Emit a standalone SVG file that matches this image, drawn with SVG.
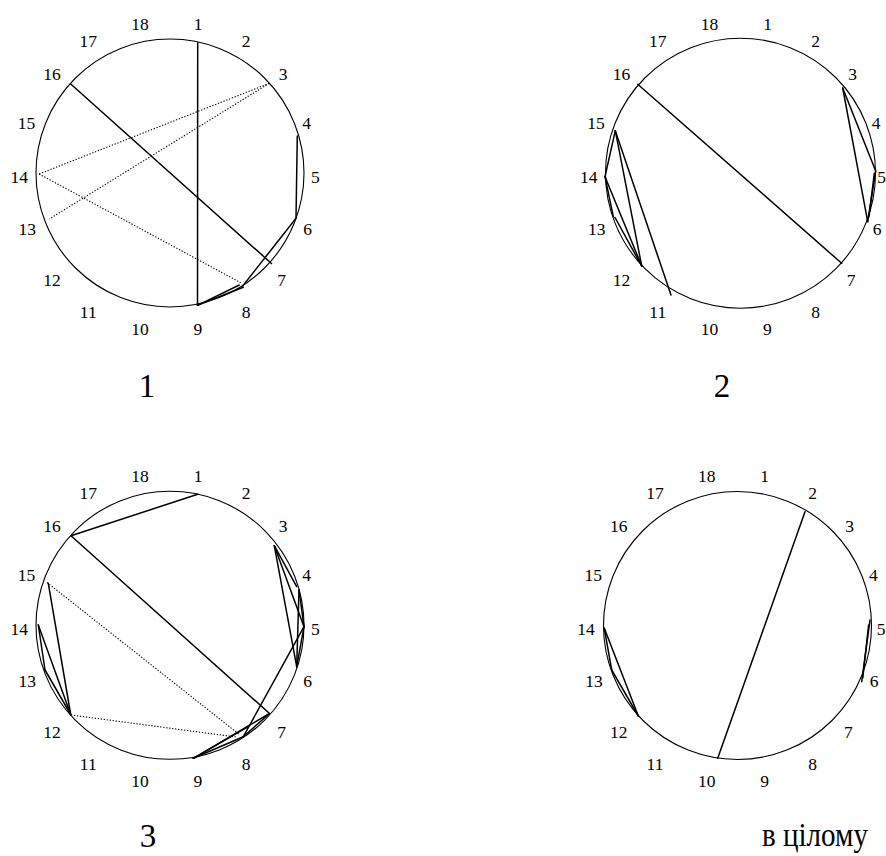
<svg xmlns="http://www.w3.org/2000/svg" width="886" height="856" viewBox="0 0 886 856">
<style>
.ring{fill:none;stroke:#000;stroke-width:1.1}
.ch{fill:none;stroke:#000;stroke-width:1.5;stroke-linecap:round}
.dt{fill:none;stroke:#000;stroke-width:1.1;stroke-dasharray:1.3 1.7}
.lb{font-family:"Liberation Serif","Times New Roman",serif;font-size:17.5px;text-anchor:middle;fill:#000}
.cap{font-family:"Liberation Serif","Times New Roman",serif;font-size:33px;text-anchor:middle;fill:#000}
</style>
<rect width="886" height="856" fill="#fff"/>

<g id="diagram1">
<circle class="ring" cx="170" cy="173" r="134"/>
<g class="lb">
<text x="198" y="30">1</text><text x="246" y="46.7">2</text><text x="283" y="80">3</text><text x="306.7" y="129.3">4</text><text x="315.3" y="182.7">5</text><text x="307.5" y="235">6</text><text x="281.7" y="286">7</text><text x="246" y="318.3">8</text><text x="197.8" y="335">9</text><text x="140" y="335">10</text><text x="88.3" y="318.3">11</text><text x="52" y="286">12</text><text x="27.2" y="235">13</text><text x="19.2" y="182.7">14</text><text x="26.5" y="129.3">15</text><text x="52" y="80">16</text><text x="88.3" y="46.7">17</text><text x="140" y="30">18</text>
</g>
<text class="cap" x="147" y="397">1</text>
</g>

<g id="diagram2">
<circle class="ring" cx="740.5" cy="173.2" r="135"/>
<g class="lb">
<text x="767.5" y="30">1</text><text x="815.5" y="46.7">2</text><text x="852.5" y="80">3</text><text x="876.2" y="129.3">4</text><text x="881.5" y="182.7">5</text><text x="877" y="235">6</text><text x="851.2" y="286">7</text><text x="815.5" y="318.3">8</text><text x="767.3" y="335">9</text><text x="709.5" y="335">10</text><text x="657.8" y="318.3">11</text><text x="621.5" y="286">12</text><text x="596.7" y="235">13</text><text x="588.7" y="182.7">14</text><text x="596" y="129.3">15</text><text x="621.5" y="80">16</text><text x="657.8" y="46.7">17</text><text x="709.5" y="30">18</text>
</g>
<text class="cap" x="722" y="397">2</text>
</g>

<g id="diagram3">
<circle class="ring" cx="170" cy="625.3" r="134"/>
<g class="lb">
<text x="198" y="482">1</text><text x="246" y="498.7">2</text><text x="283" y="532">3</text><text x="306.7" y="581.3">4</text><text x="315.3" y="634.7">5</text><text x="307.5" y="687">6</text><text x="281.7" y="738">7</text><text x="246" y="770.3">8</text><text x="197.8" y="787">9</text><text x="140" y="787">10</text><text x="88.3" y="770.3">11</text><text x="52" y="738">12</text><text x="27.2" y="687">13</text><text x="19.2" y="634.7">14</text><text x="26.5" y="581.3">15</text><text x="52" y="532">16</text><text x="88.3" y="498.7">17</text><text x="140" y="482">18</text>
</g>
<text class="cap" x="148" y="847">3</text>
</g>

<g id="diagram4">
<circle class="ring" cx="737.5" cy="625.5" r="134"/>
<g class="lb">
<text x="764.7" y="482">1</text><text x="812.7" y="498.7">2</text><text x="849.7" y="532">3</text><text x="873.4" y="581.3">4</text><text x="881" y="634.7">5</text><text x="874.2" y="687">6</text><text x="848.4" y="738">7</text><text x="812.7" y="770.3">8</text><text x="764.5" y="787">9</text><text x="706.7" y="787">10</text><text x="655" y="770.3">11</text><text x="618.7" y="738">12</text><text x="593.9" y="687">13</text><text x="585.9" y="634.7">14</text><text x="593.2" y="581.3">15</text><text x="618.7" y="532">16</text><text x="655" y="498.7">17</text><text x="706.7" y="482">18</text>
</g>
<text class="cap" x="815" y="846" textLength="106" lengthAdjust="spacingAndGlyphs">в цілому</text>
</g>

<g id="connectors">
<g id="chords1">
<line class="ch" x1="197.7" y1="42.7" x2="197.5" y2="305.3"/>
<line class="ch" x1="71" y1="84.3" x2="271.5" y2="263.5"/>
<line class="ch" x1="297.3" y1="136" x2="296" y2="218.3"/>
<line class="ch" x1="296" y1="218.3" x2="242.7" y2="286"/>
<line class="ch" x1="197.5" y1="305.3" x2="239.3" y2="285"/>
<line class="ch" x1="197.5" y1="305.3" x2="243.3" y2="287.3"/>
<line class="dt" x1="269.3" y1="83.3" x2="39" y2="174"/>
<line class="dt" x1="269.3" y1="83.3" x2="49.3" y2="219"/>
<line class="dt" x1="39" y1="174" x2="240.7" y2="282.7"/>
</g>
<g id="chords2">
<line class="ch" x1="637.7" y1="84.3" x2="841.7" y2="263.3"/>
<line class="ch" x1="842.7" y1="88" x2="875.7" y2="171"/>
<line class="ch" x1="842.7" y1="88" x2="867.7" y2="221.7"/>
<line class="ch" x1="875.7" y1="171" x2="867.7" y2="221.7"/>
<line class="ch" x1="874.3" y1="173.3" x2="869" y2="216.7"/>
<line class="ch" x1="615.3" y1="130.7" x2="605" y2="176.7"/>
<line class="ch" x1="615.3" y1="130.7" x2="641.7" y2="266"/>
<line class="ch" x1="615.3" y1="130.7" x2="671" y2="295"/>
<line class="ch" x1="605" y1="176.7" x2="641.7" y2="266"/>
<line class="ch" x1="605" y1="176.7" x2="613.3" y2="216.7"/>
<line class="ch" x1="615" y1="217.5" x2="641.7" y2="266"/>
</g>
<g id="chords3">
<line class="ch" x1="197.7" y1="494.3" x2="71" y2="535.7"/>
<line class="ch" x1="71" y1="535.7" x2="269.5" y2="713.5"/>
<line class="ch" x1="274.3" y1="545.7" x2="296.7" y2="586.7"/>
<line class="ch" x1="274.3" y1="545.7" x2="304" y2="626.7"/>
<line class="ch" x1="274.3" y1="545.7" x2="296.7" y2="666.7"/>
<line class="ch" x1="299" y1="590" x2="304" y2="626.7"/>
<line class="ch" x1="299" y1="590" x2="296.7" y2="666.7"/>
<line class="ch" x1="304" y1="626.7" x2="296.7" y2="666.7"/>
<line class="ch" x1="304" y1="626.7" x2="243.3" y2="736.7"/>
<line class="ch" x1="269.5" y1="713.5" x2="193.3" y2="758.3"/>
<line class="ch" x1="269.5" y1="713.5" x2="243.3" y2="736.7"/>
<line class="ch" x1="243.3" y1="736.7" x2="193.3" y2="758.3"/>
<line class="ch" x1="248.3" y1="726.7" x2="193.3" y2="758.3"/>
<line class="ch" x1="48.3" y1="583.3" x2="70.7" y2="714.5"/>
<line class="ch" x1="38.3" y1="625" x2="70.7" y2="714.5"/>
<line class="ch" x1="38.3" y1="625" x2="45" y2="670"/>
<line class="ch" x1="45" y1="670" x2="70.7" y2="714.5"/>
<line class="dt" x1="47" y1="582.5" x2="240" y2="735"/>
<line class="dt" x1="71" y1="715" x2="236" y2="737"/>
</g>
<g id="chords4">
<line class="ch" x1="805" y1="511.7" x2="717.7" y2="758.3"/>
<line class="ch" x1="604.3" y1="628.3" x2="638.3" y2="716"/>
<line class="ch" x1="604.3" y1="628.3" x2="611.7" y2="670"/>
<line class="ch" x1="611.7" y1="670" x2="638.3" y2="716"/>
<line class="ch" x1="870" y1="620" x2="861.7" y2="681.7"/>
<line class="ch" x1="868.6" y1="625" x2="862.8" y2="678"/>
</g>
</g>
</svg>
